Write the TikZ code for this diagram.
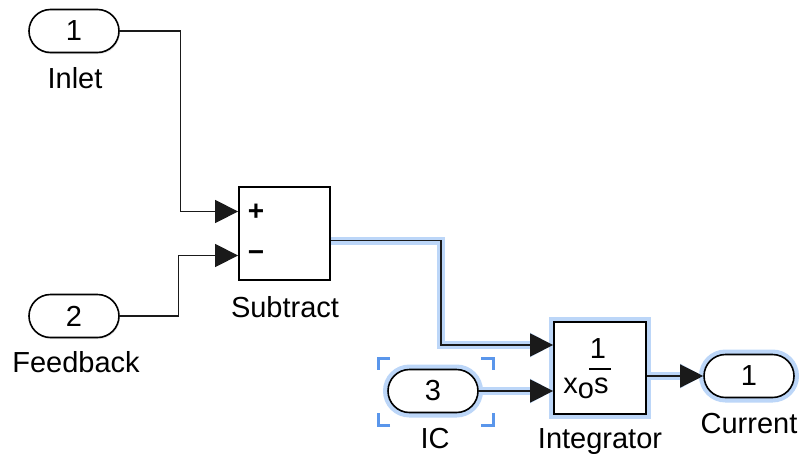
\documentclass[tikz,border=0pt]{standalone}
\usepackage{fontspec}
\setmainfont{Liberation Sans}
\usetikzlibrary{arrows.meta,positioning,calc,shapes.misc,shadows}
\definecolor{slhalo}{HTML}{BCD6F8}
\definecolor{slmark}{HTML}{5A96EB}
\definecolor{slline}{HTML}{1A1A1A}

\begin{document}
\begin{tikzpicture}[x=0.5pt, y=-0.5pt,
    port/.style={draw=black, rounded rectangle, line width=0.8pt, fill=white,
                 minimum width=45pt, minimum height=21.5pt, inner sep=0pt,
                 font=\fontsize{14.5}{16}\selectfont,
                 drop shadow={shadow xshift=0.4pt, shadow yshift=-0.8pt, opacity=0.2}},
    blk/.style={draw=black, line width=0.9pt, fill=white, inner sep=0pt},
    lbl/.style={font=\fontsize{14.5}{16}\selectfont, anchor=base, inner sep=0pt},
    sgn/.style={font=\bfseries\fontsize{14}{16}\selectfont, inner sep=0pt},
    wire/.style={draw=slline, line width=0.65pt, -{Triangle[length=11.5pt, width=11.5pt]}},
    sel/.style={preaction={draw=slhalo, line width=4pt}},
    selblk/.style={preaction={draw=slhalo, line width=5pt}},
    selcorner/.style={draw=slmark, line width=1.5pt}
]
  \useasboundingbox (0,0) rectangle (803,461);
  % Inputs
  \node[port] (inlet) at (74,31) {1};
  \node[lbl] (inletlbl) at (75,88) {Inlet};
  \node[port] (fdbk) at (74,316) {2};
  \node[lbl] (fdbklbl) at (76,372) {Feedback};
  % Subtract block
  \node[blk, minimum width=45.5pt, minimum height=46.5pt] (sub) at (284.5,233.5) {};
  \node[lbl] (sublbl) at (285,317) {Subtract};
  \node[sgn] (plus) at (256,212) {+};
  \node[sgn] (minus) at (256,256) {−};
  % Integrator block
  \node[blk, selblk, minimum width=46pt, minimum height=46pt] (integ) at (600,368) {};
  \node[lbl] (integlbl) at (600,448) {Integrator};
  \node[lbl] (num) at ($(integ.center)+(-2,-10)$) {1};
  \draw[line width=1pt] ($(integ.center)+(-11,1)$) -- ++(22,0);
  \node[lbl] (den) at ($(integ.center)+(-14,25)$) {x\raisebox{-2.5pt}{o}s};
  % Initial condition and output
  \node[port, selblk] (ic) at (433,391) {3};
  \node[lbl] (iclbl) at (435,448) {IC};
  \foreach \cx/\cy/\dx/\dy in {378/358/1/1, 493/358/-1/1, 378/425/1/-1, 493/425/-1/-1}
    \draw[selcorner] (\cx+\dx*12,\cy) -- (\cx,\cy) -- (\cx,\cy+\dy*12);
  \node[port, selblk] (cur) at (749,376) {1};
  \node[lbl] (curlbl) at (749,433) {Current};
  % Ports of the blocks
  \coordinate (subp) at ($(sub.west)+(0,-22)$);
  \coordinate (subm) at ($(sub.west)+(0,22)$);
  \coordinate (subo) at ($(sub.east)+(0,7)$);
  \coordinate (intx) at ($(integ.west)+(0,-23)$);
  \coordinate (into) at ($(integ.east)+(0,8)$);
  % Signal lines
  \draw[wire] (inlet.east) -- ++(61,0) |- (subp);
  \draw[wire] (fdbk.east) -- ++(59,0) |- (subm);
  \draw[wire, sel] (subo) -- ++(110,0) |- (intx);
  \draw[wire, sel] (ic.east) -- (ic.east -| integ.west);
  \draw[wire, sel] (into) -- (cur.west);
\end{tikzpicture}
\end{document}
